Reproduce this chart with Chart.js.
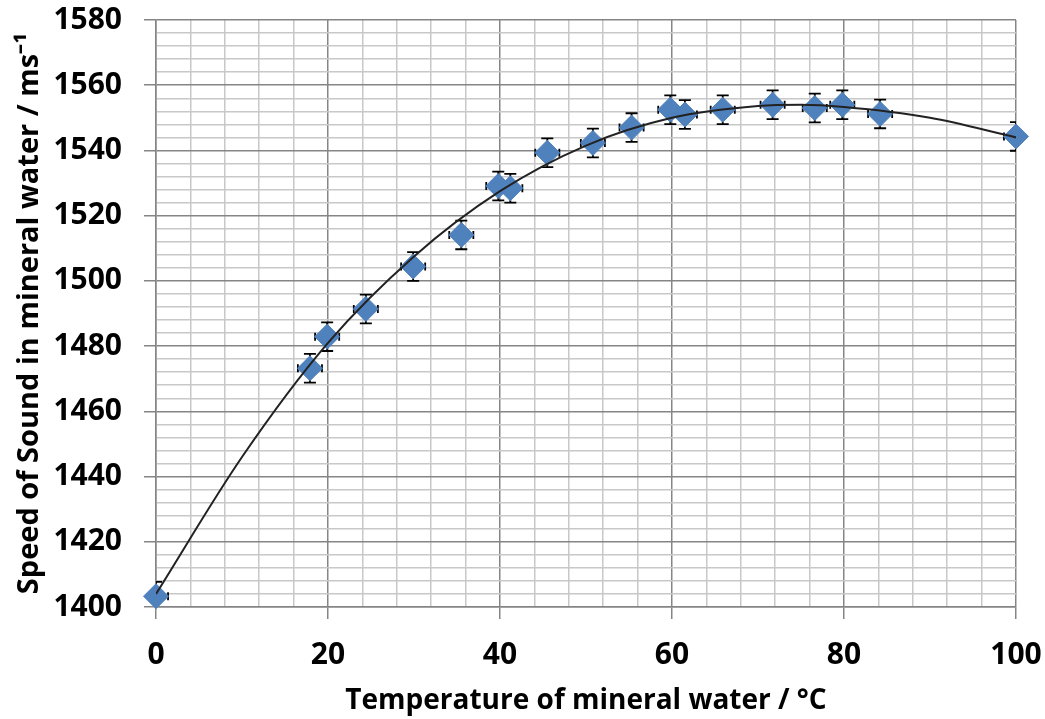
<!DOCTYPE html>
<html>
<head>
<meta charset="utf-8">
<title>Speed of sound in mineral water</title>
<script src="https://cdn.jsdelivr.net/npm/chart.js@4.4.1/dist/chart.umd.min.js"></script>
<style>
  html, body { margin: 0; padding: 0; background: #fff; }
  #wrap { width: 1045px; height: 719px; }
</style>
</head>
<body>
<div id="wrap"><canvas id="speedChart" width="1045" height="719"></canvas></div>
<script>
// measured points: temperature (°C) and speed of sound (m/s)
const tempValues  = [0, 17.9, 19.9, 24.4, 29.9, 35.5, 39.8, 41.2, 45.5, 50.8, 55.3, 59.8, 61.5, 65.9, 71.7, 76.6, 79.8, 84.2, 100];
const speedValues = [1403.3, 1473.2, 1482.9, 1491.4, 1504.4, 1514.1, 1529.1, 1528.4, 1539.3, 1542.3, 1547.0, 1552.5, 1551.0, 1552.5, 1554.0, 1553.0, 1554.0, 1551.2, 1544.3];
const speedErrors = [4.4, 4.4, 4.4, 4.4, 4.4, 4.4, 4.4, 4.4, 4.4, 4.4, 4.4, 4.4, 4.4, 4.4, 4.4, 4.4, 4.4, 4.4, 4.4];
const tempErrors  = [1.4, 1.4, 1.4, 1.4, 1.4, 1.4, 1.4, 1.4, 1.4, 1.4, 1.4, 1.4, 1.4, 1.4, 1.4, 1.4, 1.4, 1.4, 1.4];

// trend line
const trendTemps  = [0, 10, 20, 30, 40, 50, 60, 70, 75, 80, 90, 100];
const trendSpeeds = [1404, 1446, 1481, 1507.5, 1527.5, 1541.5, 1550, 1553.6, 1554, 1553.3, 1550, 1544];

// labelled ticks
const xMajorTicks = [0, 20, 40, 60, 80, 100];
const yMajorTicks = [1400, 1420, 1440, 1460, 1480, 1500, 1520, 1540, 1560, 1580];

const majorGrid = '#858585';
const minorGrid = '#c8c8c8';
const fontFamily = "'Open Sans', sans-serif";

// error bars drawn under the markers, clipped to the plot area
const errorBarPlugin = {
  id: 'errorBars',
  beforeDatasetsDraw(chart) {
    const {ctx, chartArea, scales: {x, y}} = chart;
    ctx.save();
    ctx.beginPath();
    ctx.rect(chartArea.left, chartArea.top, chartArea.right - chartArea.left, chartArea.bottom - chartArea.top);
    ctx.clip();
    ctx.strokeStyle = '#000';
    ctx.lineWidth = 1.8;
    const cap = 6;
    tempValues.forEach((t, i) => {
      const px = x.getPixelForValue(t);
      const py = y.getPixelForValue(speedValues[i]);
      const yTop = y.getPixelForValue(speedValues[i] + speedErrors[i]);
      const yBot = y.getPixelForValue(speedValues[i] - speedErrors[i]);
      const xL = x.getPixelForValue(t - tempErrors[i]);
      const xR = x.getPixelForValue(t + tempErrors[i]);
      ctx.beginPath();
      ctx.moveTo(px, yTop); ctx.lineTo(px, yBot);
      ctx.moveTo(px - cap, yTop); ctx.lineTo(px + cap, yTop);
      ctx.moveTo(px - cap, yBot); ctx.lineTo(px + cap, yBot);
      ctx.moveTo(xL, py); ctx.lineTo(xR, py);
      ctx.moveTo(xL, py - 4); ctx.lineTo(xL, py + 4);
      ctx.moveTo(xR, py - 4); ctx.lineTo(xR, py + 4);
      ctx.stroke();
    });
    ctx.restore();
  }
};

const ctx = document.getElementById('speedChart').getContext('2d');

new Chart(ctx, {
  type: 'scatter',
  data: {
    datasets: [{
      label: 'Trend',
      data: trendTemps.map((t, i) => ({x: t, y: trendSpeeds[i]})),
      showLine: true,
      borderColor: '#222',
      borderWidth: 2,
      pointRadius: 0,
      cubicInterpolationMode: 'monotone',
      order: 0
    }, {
      label: 'Measured',
      data: tempValues.map((t, i) => ({x: t, y: speedValues[i]})),
      pointStyle: 'rectRot',
      pointRadius: 12.5,
      backgroundColor: '#4f81bd',
      borderColor: '#4f81bd',
      borderWidth: 1,
      clip: false,
      order: 1
    }]
  },
  options: {
    responsive: false,
    animation: false,
    devicePixelRatio: 1,
    layout: { padding: { top: 20, right: 29, left: 0, bottom: 0 } },
    plugins: {
      legend: { display: false },
      tooltip: { enabled: false }
    },
    scales: {
      x: {
        type: 'linear',
        min: 0,
        max: 100,
        ticks: {
          stepSize: 4,
          autoSkip: false,
          maxRotation: 0,
          padding: 18,
          color: '#000',
          font: { family: fontFamily, size: 30, weight: 'bold' },
          callback: v => xMajorTicks.includes(v) ? v : ''
        },
        grid: {
          color: c => xMajorTicks.includes(c.tick.value) ? majorGrid : minorGrid,
          tickColor: c => xMajorTicks.includes(c.tick.value) ? majorGrid : 'rgba(0,0,0,0)',
          lineWidth: 1.5,
          tickLength: 12
        },
        border: { color: majorGrid, width: 1.5 },
        title: {
          display: true,
          text: 'Temperature of mineral water / °C',
          color: '#000',
          font: { family: fontFamily, size: 28, weight: 'bold' },
          padding: { top: 0, bottom: 1 }
        },
        afterFit: s => {
          s.height = 112;
          s.paddingLeft = 0;
          s.paddingRight = 0;
        }
      },
      y: {
        type: 'linear',
        min: 1400,
        max: 1580,
        ticks: {
          stepSize: 4,
          autoSkip: false,
          padding: 22,
          color: '#000',
          font: { family: fontFamily, size: 30, weight: 'bold' },
          callback: v => yMajorTicks.includes(v) ? v : ''
        },
        grid: {
          color: c => yMajorTicks.includes(c.tick.value) ? majorGrid : minorGrid,
          tickColor: c => yMajorTicks.includes(c.tick.value) ? majorGrid : 'rgba(0,0,0,0)',
          lineWidth: 1.5,
          tickLength: 12
        },
        border: { color: majorGrid, width: 1.5 },
        title: {
          display: true,
          text: 'Speed of Sound in mineral water / ms⁻¹',
          color: '#000',
          font: { family: fontFamily, size: 29, weight: 'bold' },
          padding: { top: 12, bottom: 0 }
        },
        afterFit: s => {
          s.width = 156;
          s.paddingTop = 0;
          s.paddingBottom = 0;
        }
      }
    }
  },
  plugins: [errorBarPlugin]
});
</script>
</body>
</html>
